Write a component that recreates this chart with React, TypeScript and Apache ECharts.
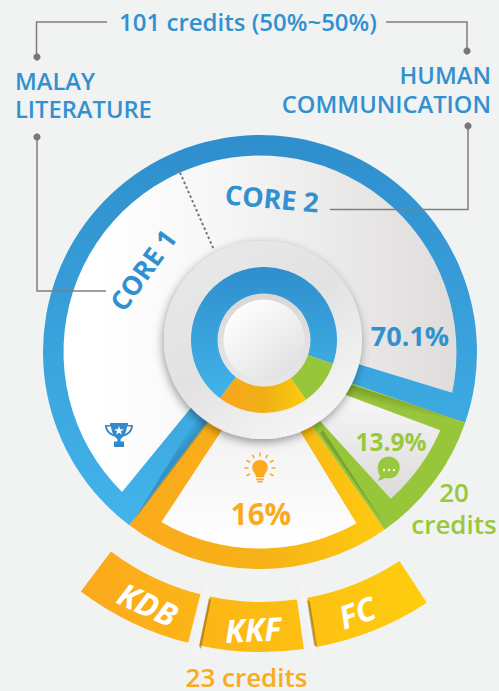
import React, { useEffect, useRef } from "react";
import * as echarts from "echarts";

// Sweep of each wedge as drawn in the picture (share of the circle, %)
const sliceNames = ["Core", "Green", "Orange"];
const sliceShares = [70, 10, 20];
// Labels printed on the picture
const corePct = "70.1%";
const greenPct = "13.9%";
const orangePct = "16%";
const topLabel = "101 credits (50%~50%)";
const leftLabel = ["MALAY", "LITERATURE"];
const rightLabel = ["HUMAN", "COMMUNICATION"];
const coreNames = ["CORE 1", "CORE 2"];
const greenCredits = "20\ncredits";
const orangeCredits = "23 credits";
const bandNames = ["KDB", "", "KKF", "", "FC", ""];
const bandSweeps = [22.8, 2.2, 20, 2.2, 23, 289.8];

const FONT = "'Open Sans', sans-serif";
const BLUE = "#3191d0";
const GREEN = "#98c93c";
const ORANGE = "#fbaa1c";
const LINE = "#7f7f7f";
const C: [number, number] = [260, 352];

const rad = (d: number) => (d * Math.PI) / 180;
const pt = (r: number, a: number) => [C[0] + r * Math.cos(rad(a)), C[1] - r * Math.sin(rad(a))];
function panel(apex: number[], from: number, to: number, r = 196.5) {
  const pts = [apex];
  const n = 60;
  for (let i = 0; i <= n; i++) pts.push(pt(r, from + ((to - from) * i) / n));
  return pts;
}
const lg = (x: number, y: number, x2: number, y2: number, stops: [number, string][]) =>
  new (echarts.graphic as any).LinearGradient(x, y, x2, y2, stops.map(([offset, color]) => ({ offset, color })), true);

const chat = "M0 11 A11 11 0 1 1 7.5 19 L0 22 L2.2 17 A11 11 0 0 1 0 11 Z";
const bulb =
  "M7.8 0 C3.3 0 0 3.4 0 7.6 C0 11 2.4 12.5 3.4 15.2 L3.8 17.2 H11.8 L12.2 15.2 C13.2 12.5 15.6 11 15.6 7.6 C15.6 3.4 12.3 0 7.8 0 Z M4 18.6 H11.6 V20.2 H4 Z M5.2 21 H10.4 V22.4 H5.2 Z";
const trophy =
  "M5 0 H23 V2 H28 C28 8 24 12 18.5 13.5 C17.5 14.8 16 15.4 15.6 16 V18.5 H19 V24 H9 V18.5 H12.4 V16 C12 15.4 10.5 14.8 9.5 13.5 C4 12 0 8 0 2 H5 Z";
const star = "M5 0 L6.2 3.3 H9.8 L6.9 5.4 L8 8.8 L5 6.8 L2 8.8 L3.1 5.4 L0.2 3.3 H3.8 Z";
const handleL = "M2 3.6 H6 C6.2 6.5 7 8.8 8.2 11 C4.6 9.6 2.3 7 2 3.6 Z";
const handleR = "M26 3.6 H22 C21.8 6.5 21 8.8 19.8 11 C23.4 9.6 25.7 7 26 3.6 Z";
echarts.graphic.registerShape("chatIcon", echarts.graphic.extendPath(chat as any, {}) as any);
echarts.graphic.registerShape("bulbIcon", echarts.graphic.extendPath(bulb as any, {}) as any);
echarts.graphic.registerShape("trophyIcon", echarts.graphic.extendPath(trophy as any, {}) as any);
echarts.graphic.registerShape("starIcon", echarts.graphic.extendPath(star as any, {}) as any);
echarts.graphic.registerShape("handleLIcon", echarts.graphic.extendPath(handleL as any, {}) as any);
echarts.graphic.registerShape("handleRIcon", echarts.graphic.extendPath(handleR as any, {}) as any);

const txt = (text: string, x: number, y: number, size: number, fill: string, weight: number | string = 600, extra: any = {}, align = "center") => ({
  type: "text",
  z: 30,
  x,
  y,
  rotation: extra.rotation ?? 0,
  style: {
    text,
    x: 0,
    y: 0,
    fill,
    fontFamily: FONT,
    fontSize: size,
    fontWeight: weight,
    fontStyle: extra.fontStyle ?? "normal",
    textAlign: align,
    textVerticalAlign: "middle",
    ...(extra.lineHeight ? { lineHeight: extra.lineHeight } : {}),
  },
});
const poly = (points: number[][], fill: any, z = 3) => ({ type: "polygon", z, silent: true, shape: { points }, style: { fill } });
const ln = (pts: number[][], z = 20, extra: any = {}) => ({
  type: "polyline",
  z,
  silent: true,
  shape: { points: pts },
  style: { stroke: LINE, lineWidth: 1.5, fill: "none", ...extra },
});
const dot = (x: number, y: number) => ({ type: "circle", z: 20, silent: true, shape: { cx: x, cy: y, r: 3.6 }, style: { fill: "#777777" } });

const rays = [150, 120, 90, 60, 30, 0, 180, 210, 330].map((a) => {
  const cx = 260;
  const cy = 468;
  return {
    type: "line",
    z: 20,
    silent: true,
    shape: {
      x1: cx + 11.5 * Math.cos(rad(a)),
      y1: cy - 11.5 * Math.sin(rad(a)),
      x2: cx + 15.5 * Math.cos(rad(a)),
      y2: cy - 15.5 * Math.sin(rad(a)),
    },
    style: { stroke: ORANGE, lineWidth: 1.5 },
  };
});

const outerColors = [
  lg(0, 134, 0, 525, [[0, "#2f8ecd"], [1, "#42b4e9"]]),
  "#98c63b",
  lg(131, 0, 386, 0, [[0, "#fbaa1c"], [0.5, "#f6b117"], [1, "#fecb0e"]]),
];
const ringColors = [
  lg(0, 266, 0, 400, [[0, "#2f8ecd"], [1, "#42b4e9"]]),
  "#98c63b",
  lg(221, 0, 306, 0, [[0, "#f9a51c"], [0.5, "#efb014"], [1, "#fecb0e"]]),
];
const bandFill = lg(85, 0, 425, 0, [[0, "#fba91c"], [1, "#fecd0d"]]);

export default function App() {
  const ref = useRef<HTMLDivElement>(null);
  useEffect(() => {
    document.body.style.margin = "0";
    const chart = echarts.init(ref.current!, undefined, { renderer: "svg" });
    chart.setOption({
      animation: false,
      backgroundColor: "#f1f2f2",
      series: [
        {
          type: "pie",
          z: 1,
          silent: true,
          center: C,
          radius: [0, 217],
          startAngle: 233,
          clockwise: true,
          label: { show: false },
          labelLine: { show: false },
          data: sliceNames.map((name, i) => ({ name, value: sliceShares[i], itemStyle: { color: outerColors[i] } })),
        },
        {
          type: "pie",
          z: 8,
          silent: true,
          center: [264, 340],
          radius: [45, 73],
          startAngle: 233,
          clockwise: true,
          label: { show: false },
          labelLine: { show: false },
          data: sliceNames.map((name, i) => ({ name, value: sliceShares[i], itemStyle: { color: ringColors[i] } })),
        },
        {
          type: "pie",
          z: 1,
          silent: true,
          center: [262, 351],
          radius: [251, 301],
          startAngle: 233,
          clockwise: false,
          label: { show: false },
          labelLine: { show: false },
          data: bandNames.map((name, i) => ({
            name: name || "gap" + i,
            value: bandSweeps[i],
            itemStyle: { color: name ? bandFill : "transparent" },
          })),
        },
      ],
      graphic: {
        elements: [
          // inner panels of the wedges
          poly(panel([253, 332], 225.4, -12), lg(100, 0, 455, 0, [[0, "#ffffff"], [0.35, "#f6f6f6"], [1, "#dfdddc"]])),
          poly(panel([271, 367], -23.5, -48.3), lg(0, 395, 0, 498, [[0, "#f7f7f7"], [1, "#dcdada"]])),
          poly(panel([262, 369], -60.6, -120.1), lg(0, 440, 0, 549, [[0, "#f3f3f3"], [1, "#ffffff"]])),
          // folded shadows
          poly([[345, 383], [467, 422], [338, 396]], lg(345, 383, 342, 396, [[0, "rgba(80,100,20,0.45)"], [1, "rgba(80,100,20,0)"]])),
          poly([[386, 527], [320, 433], [323, 430]], "rgba(80,110,30,0.4)"),
          poly([[132, 523], [209, 422], [199, 414]], lg(207, 423, 199, 416, [[0, "rgba(20,70,110,0.28)"], [1, "rgba(20,70,110,0)"]])),
          // centre disc
          {
            type: "circle",
            z: 6,
            silent: true,
            shape: { cx: 263, cy: 340, r: 99 },
            style: {
              fill: lg(200, 260, 320, 430, [[0, "#e8e8e8"], [0.45, "#e3e2e2"], [1, "#f6f6f6"]]),
              shadowBlur: 10,
              shadowOffsetX: -1,
              shadowOffsetY: 3,
              shadowColor: "rgba(0,0,0,0.4)",
            },
          },
          {
            type: "circle",
            z: 10,
            silent: true,
            shape: { cx: 264, cy: 340, r: 46.5 },
            style: { fill: lg(0, 294, 0, 387, [[0, "#d8d7d7"], [1, "#e9e8e8"]]) },
          },
          {
            type: "circle",
            z: 11,
            silent: true,
            shape: { cx: 264, cy: 340, r: 40.5 },
            style: { fill: lg(235, 305, 295, 380, [[0, "#ffffff"], [1, "#e0dfdf"]]) },
          },
          // grooves between the bottom bands
          poly([[203, 585], [210, 585], [197, 660], [191, 660]], "#f4f4f4", 4),
          poly([[209, 598], [211, 600], [201, 649], [199, 646]], "rgba(130,90,10,0.5)", 5),
          poly([[298, 585], [305, 585], [318, 660], [312, 660]], "#f4f4f4", 4),
          poly([[307, 600], [310, 602], [317, 647], [314, 645]], "rgba(130,90,10,0.5)", 5),
          // leader lines
          ln([[107, 22], [36.5, 22], [36.5, 57]]),
          dot(37, 57),
          ln([[386, 22], [467, 22], [467, 51]]),
          dot(467, 51),
          ln([[468, 126], [468, 209.5], [330, 209.5]]),
          dot(468, 126),
          ln([[37, 137], [37, 291], [106, 291]]),
          dot(37, 137),
          ln([[178, 168], [214, 250]], 20, { lineDash: [2.5, 2.5], lineWidth: 2, stroke: "#767676" }),
          // icons
          { type: "trophyIcon", z: 20, silent: true, x: 105, y: 423, style: { fill: "#3289cb" } },
          { type: "handleLIcon", z: 21, silent: true, x: 105, y: 423, style: { fill: "#fafafa" } },
          { type: "handleRIcon", z: 21, silent: true, x: 105, y: 423, style: { fill: "#fafafa" } },
          { type: "starIcon", z: 22, silent: true, x: 114, y: 426, style: { fill: "#fafafa" } },
          { type: "bulbIcon", z: 20, silent: true, x: 252.2, y: 460, style: { fill: ORANGE } },
          ...rays,
          { type: "chatIcon", z: 20, silent: true, x: 378, y: 459, style: { fill: GREEN } },
          ...[384, 389, 394].map((cx) => ({ type: "circle", z: 21, silent: true, shape: { cx, cy: 470, r: 1.2 }, style: { fill: "#ffffff" } })),
          // texts
          txt(topLabel, 248, 21, 24, BLUE),
          txt(leftLabel[0], 15, 81, 23.7, BLUE, 600, {}, "left"),
          txt(leftLabel[1], 15, 109, 23.7, BLUE, 600, {}, "left"),
          txt(rightLabel[0], 491, 75, 23.7, BLUE, 600, {}, "right"),
          txt(rightLabel[1], 491, 104, 23.7, BLUE, 600, {}, "right"),
          txt(coreNames[1], 272, 198, 27, BLUE, 700, { rotation: rad(-5) }),
          txt(coreNames[0], 143, 270, 26.5, BLUE, 700, { rotation: rad(54) }),
          txt(corePct, 410, 335, 27, BLUE, 700),
          txt(greenPct, 391, 441, 24.5, GREEN, 700),
          txt(orangePct, 261, 513, 29.5, ORANGE, 700),
          txt(greenCredits, 454, 508, 26, GREEN, 600, { lineHeight: 32 }),
          txt(orangeCredits, 246.5, 677, 26, ORANGE),
          txt(bandNames[0], 148, 604, 32, "#ffffff", 700, { rotation: rad(-25), fontStyle: "italic" }),
          txt(bandNames[2], 253, 629, 32, "#ffffff", 700, { rotation: rad(3), fontStyle: "italic" }),
          txt(bandNames[4], 357, 612, 32, "#ffffff", 700, { rotation: rad(20), fontStyle: "italic" }),
        ],
      },
    });
    return () => chart.dispose();
  }, []);
  return <div ref={ref} style={{ position: "absolute", left: 0, top: 0, width: 499, height: 691 }} />;
}
